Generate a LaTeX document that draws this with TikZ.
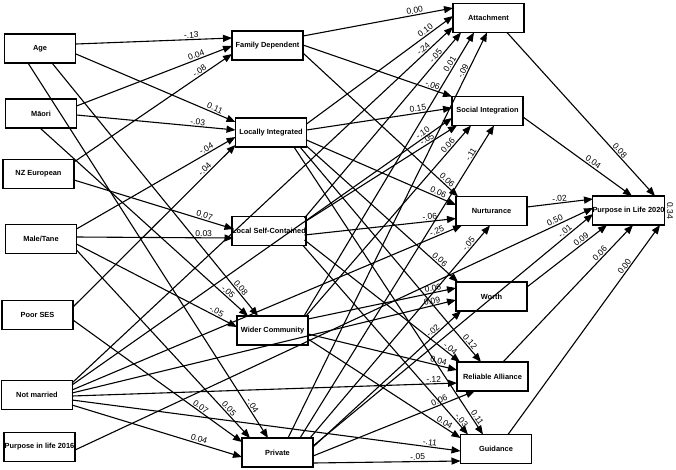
\documentclass[tikz,border=0pt]{standalone}
\usepackage{fontspec}
\setmainfont{Liberation Sans}
\usetikzlibrary{arrows.meta,calc}
\newcommand\boxfont{\fontsize{7.4}{8}\selectfont\bfseries}
\newcommand\labfont{\fontsize{8.5}{9}\selectfont}
\tikzset{
  box/.style={draw, line width=1.6pt, minimum width=71pt, minimum height=29pt, inner sep=0pt, font=\boxfont},
  edge/.style={line width=1.1pt, -{Triangle[length=9pt,width=7pt]}},
  lab/.style={font=\labfont, sloped, above, inner sep=1pt}
}
\begin{document}
\begin{tikzpicture}[x=1pt,y=-1pt]
\useasboundingbox (0,0) rectangle (676,469);
% exogenous
\node[box] (Age) at (40,48.5) {Age};
\node[box] (Mao) at (41,113.5) {Māori};
\node[box] (NZE) at (38.5,174) {NZ European};
\node[box] (Male) at (41,239) {Male/Tane};
\node[box] (SES) at (37.5,315) {Poor SES};
\node[box] (NM) at (37,395) {Not married};
\node[box] (P16) at (39.5,447) {Purpose in life 2016};
% network types
\node[box] (FD) at (267.5,45.5) {Family Dependent};
\node[box] (LI) at (271,132.5) {Locally Integrated};
\node[box] (LSC) at (269,231) {Local Self-Contained};
\node[box] (WC) at (272.5,330.5) {Wider Community};
\node[box] (PR) at (277.5,452.5) {Private};
% provisions
\node[box] (ATT) at (488.5,18) {Attachment};
\node[box] (SI) at (487.5,111) {Social Integration};
\node[box] (NU) at (491.5,211) {Nurturance};
\node[box] (WO) at (491.5,296.5) {Worth};
\node[box] (RA) at (492.5,376.5) {Reliable Alliance};
\node[box] (GU) at (496,449) {Guidance};
\node[box] (P20) at (628.5,210.5) {Purpose in Life 2020};
\node[font=\labfont, rotate=-90] (R2) at (670,210.5) {0.34};
% layer 1
\draw[edge] ($(Age)+(36,-4.5)$) -- ($(FD)+(-35.5,-7.5)$) node[lab,pos=.74]{-.13};
\draw[edge] ($(Mao)+(35.5,-7.5)$) -- ($(FD)+(-35.5,0.5)$) node[lab,pos=.78]{0.04};
\draw[edge] ($(NZE)+(35.5,-12)$) -- ($(FD)+(-35.5,8.5)$) node[lab,pos=.81]{-.08};
\draw[edge] ($(Age)+(36,5.5)$) -- ($(LI)+(-35.5,-10.5)$) node[lab,pos=.86]{0.11};
\draw[edge] ($(Mao)+(35.5,1.5)$) -- ($(LI)+(-35.5,-2.5)$) node[lab,pos=.76]{-.03};
\draw[edge] ($(Male)+(35.5,-10)$) -- ($(LI)+(-35.5,4.5)$) node[lab,pos=.83]{-.04};
\draw[edge] ($(SES)+(35.5,-8)$) -- ($(LI)+(-35.5,12.5)$) node[lab,pos=.83]{-.04};
\draw[edge] ($(NZE)+(35.5,6)$) -- ($(LSC)+(-35.5,-2)$) node[lab,pos=.81]{0.07};
\draw[edge] ($(Male)+(35.5,-2)$) -- ($(LSC)+(-35.5,7)$) node[lab,pos=.81]{0.03};
\draw[edge] ($(Age)+(12,14.5)$) -- ($(WC)+(-14.5,-14.5)$) node[lab,pos=.9]{0.08};
\draw[edge] ($(Mao)+(-1,14.5)$) -- ($(WC)+(-24.5,-14.5)$) node[lab,pos=.89]{-.05};
\draw[edge] ($(Male)+(35.5,5)$) -- ($(WC)+(-35.5,-3.5)$) node[lab,pos=.86]{-.05};
\draw[edge] ($(Age)+(-12,14.5)$) -- ($(PR)+(-9.5,-14.5)$) node[lab,pos=.92]{-.04};
\draw[edge] ($(Male)+(35.5,11)$) -- ($(PR)+(-27.5,-14.5)$) node[lab,pos=.86]{0.05};
\draw[edge] ($(SES)+(35.5,5)$) -- ($(PR)+(-35.5,-10.5)$) node[lab,pos=.74]{0.07};
\draw[edge] ($(NM)+(35,10)$) -- ($(PR)+(-35.5,4.5)$) node[lab,pos=.74]{0.04};
% layer 2: attachment
\draw[edge] ($(FD)+(35.5,-9.5)$) -- ($(ATT)+(-35.5,-10)$) node[lab,pos=.75]{0.00};
\draw[edge] ($(LI)+(35.5,-8.5)$) -- ($(ATT)+(-35.5,-2)$) node[lab,pos=.83]{0.10};
\draw[edge] ($(NM)+(35,-12)$) -- ($(ATT)+(-35.5,9)$) node[lab,pos=.93]{-.24};
\draw[edge] ($(LSC)+(35.5,-13)$) -- ($(ATT)+(-27.5,14.5)$) node[lab,pos=.86]{-.05};
\draw[edge] ($(WC)+(31.5,-14.5)$) -- ($(ATT)+(-14.5,14.5)$) node[lab,pos=.88]{0.01};
\draw[edge] ($(PR)+(10.5,-14.5)$) -- ($(ATT)+(-1.5,14.5)$) node[lab,pos=.9]{-.09};
% social integration
\draw[edge] ($(FD)+(35.5,-0.5)$) -- ($(SI)+(-35.5,-14.5)$) node[lab,pos=.86]{-.06};
\draw[edge] ($(LI)+(35.5,-2.5)$) -- ($(SI)+(-35.5,-3)$) node[lab,pos=.77]{0.15};
\draw[edge] ($(NM)+(35,-10)$) -- ($(SI)+(-35.5,7)$) node[lab,pos=.93]{-.10};
\draw[edge] ($(LSC)+(35.5,-9)$) -- ($(SI)+(-30.5,14.5)$) node[lab,pos=.82]{-.05};
\draw[edge] ($(WC)+(33.5,-14.5)$) -- ($(SI)+(-16.5,14.5)$) node[lab,pos=.88]{0.06};
\draw[edge] ($(PR)+(22.5,-14.5)$) -- ($(SI)+(6.5,14.5)$) node[lab,pos=.9]{-.11};
% nurturance
\draw[edge] ($(FD)+(35.5,7.5)$) -- ($(NU)+(-33.5,-14.5)$) node[lab,pos=.91]{0.06};
\draw[edge] ($(LI)+(35.5,7.5)$) -- ($(NU)+(-35.5,-6)$) node[lab,pos=.87]{0.06};
\draw[edge] ($(LSC)+(35.5,4)$) -- ($(NU)+(-35.5,7.5)$) node[lab,pos=.83]{-.06};
\draw[edge] ($(NM)+(35,-5)$) -- ($(NU)+(-29.5,14.5)$) node[lab,pos=.94]{-.25};
\draw[edge] ($(PR)+(32.5,-14.5)$) -- ($(NU)+(-1.5,14.5)$) node[lab,pos=.9]{-.05};
% worth
\draw[edge] ($(LI)+(35.5,13.5)$) -- ($(WO)+(-33.5,-14.5)$) node[lab,pos=.86]{0.06};
\draw[edge] ($(WC)+(35.5,-11.5)$) -- ($(WO)+(-35.5,-8.5)$) node[lab,pos=.85]{0.06};
\draw[edge] ($(NM)+(35,-2)$) -- ($(WO)+(-35.5,3.5)$) node[lab,pos=.94]{0.09};
\draw[edge] ($(PR)+(35.5,-5.5)$) -- ($(WO)+(-30.5,14.5)$) node[lab,pos=.83]{-.02};
% reliable alliance
\draw[edge] ($(LI)+(29,14.5)$) -- ($(RA)+(-11.5,-14.5)$) node[lab,pos=.92]{0.12};
\draw[edge] ($(LSC)+(35.5,9)$) -- ($(RA)+(-32.5,-14.5)$) node[lab,pos=.92]{-.04};
\draw[edge] ($(WC)+(35.5,3.5)$) -- ($(RA)+(-35.5,-6.5)$) node[lab,pos=.87]{0.04};
\draw[edge] ($(NM)+(35,1)$) -- ($(RA)+(-35.5,6.5)$) node[lab,pos=.94]{-.12};
\draw[edge] ($(PR)+(35.5,3.5)$) -- ($(RA)+(-17.5,14.5)$) node[lab,pos=.79]{0.06};
% guidance
\draw[edge] ($(LI)+(23,14.5)$) -- ($(GU)+(-13,-14.5)$) node[lab,pos=.95]{0.11};
\draw[edge] ($(LSC)+(34,14.5)$) -- ($(GU)+(-28,-14.5)$) node[lab,pos=.94]{-.03};
\draw[edge] ($(WC)+(35.5,8.5)$) -- ($(GU)+(-35.5,-11)$) node[lab,pos=.88]{0.04};
\draw[edge] ($(NM)+(35,5)$) -- ($(GU)+(-35.5,2)$) node[lab,pos=.92]{-.11};
\draw[edge] ($(PR)+(35.5,10.5)$) -- ($(GU)+(-35.5,12)$) node[lab,pos=.71]{-.05};
% layer 3
\draw[edge] ($(ATT)+(18.5,14.5)$) -- ($(P20)+(26.5,-14.5)$) node[lab,pos=.74]{0.08};
\draw[edge] ($(SI)+(35.5,6)$) -- ($(P20)+(3.5,-14.5)$) node[lab,pos=.62]{0.04};
\draw[edge] ($(NU)+(35.5,-4)$) -- ($(P20)+(-35.5,-11.5)$) node[lab,pos=.5]{-.02};
\draw[edge] ($(P16)+(35.5,3)$) -- ($(P20)+(-35.5,-2.5)$) node[lab,pos=.93]{0.50};
\draw[edge] ($(PR)+(35.5,-6.5)$) -- ($(P20)+(-35.5,3.5)$) node[lab,pos=.91]{-.01};
\draw[edge] ($(WO)+(35.5,-9.5)$) -- ($(P20)+(-21.5,14.5)$) node[lab,pos=.71]{0.09};
\draw[edge] ($(RA)+(10.5,-14.5)$) -- ($(P20)+(4.5,14.5)$) node[lab,pos=.77]{0.06};
\draw[edge] ($(GU)+(12,-14.5)$) -- ($(P20)+(31.5,14.5)$) node[lab,pos=.79]{0.00};
\end{tikzpicture}
\end{document}
